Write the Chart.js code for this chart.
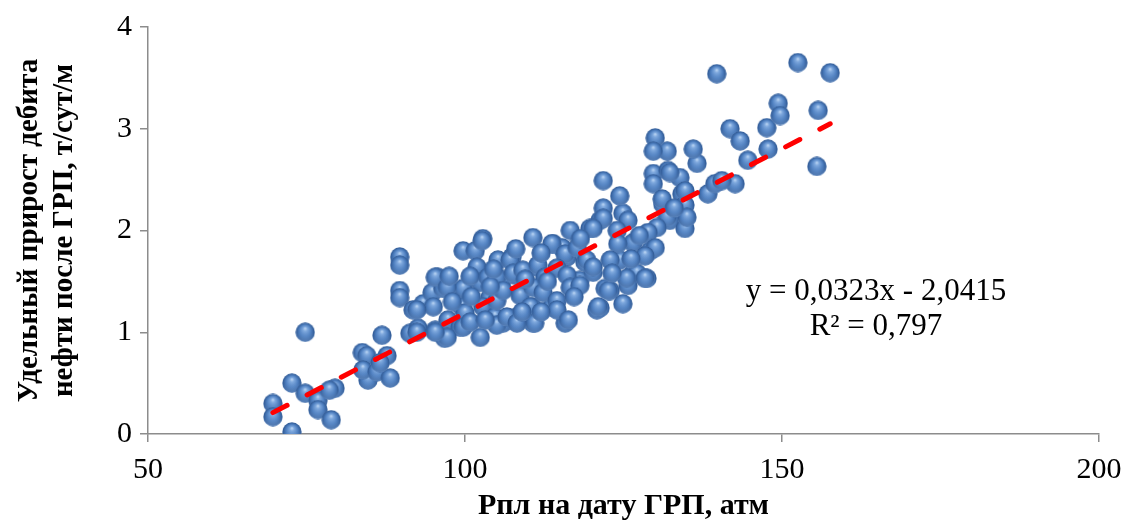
<!DOCTYPE html>
<html>
<head>
<meta charset="utf-8">
<script src="https://cdn.jsdelivr.net/npm/chart.js@4"></script>
<style>
    body { margin: 0; background: #fff; }
    #wrap { width: 1125px; height: 524px; }
</style>
</head>
<body>
<div id="wrap"><canvas id="fracChart" width="1125" height="524"></canvas></div>
<script>
// Рпл на дату ГРП, атм
let pressure = [
    69.7, 69.7, 72.7, 72.7, 74.8, 74.8, 76.8, 76.8, 78.9, 79.5, 78.6,
    83.8, 84.5, 84.7, 83.9, 86.1, 86.9, 87.7, 88.2, 86.6,
    89.7, 89.7, 89.7, 89.7, 91.8, 91.3, 92.6, 93.4, 94.8, 95.0,
    95.7, 96.5, 95.3, 96.8, 97.3, 99.7, 99.5, 99.2, 100.0, 102.4,
    102.8, 99.7, 101.6, 101.9, 102.4, 103.9, 105.2, 102.8, 104.7, 106.0,
    103.6, 105.8, 92.4, 95.3, 97.2, 102.7, 107.4, 105.0, 107.9, 111.4,
    113.9, 115.3, 116.1, 118.9, 118.1, 121.3, 122.9, 126.5, 124.4, 129.2,
    124.9, 128.7, 131.2, 132.3, 110.6, 113.7, 115.8, 110.7, 107.6, 105.0,
    99.7, 97.2, 95.3, 92.4, 110.7, 113.7, 116.6, 119.7, 115.8, 117.7,
    121.3, 107.1, 107.6, 109.1, 111.5, 112.6, 114.5, 116.1, 119.2, 120.2,
    105.0, 106.0, 108.7, 110.7, 112.3, 114.5, 116.6, 118.1, 122.1, 106.6,
    108.2, 110.3, 111.0, 114.5, 116.3, 120.8, 121.8, 124.4, 121.8, 121.8,
    129.7, 132.0, 133.9, 136.6, 129.7, 131.1, 134.2, 134.7, 138.3, 139.4,
    134.7, 131.9, 130.3, 128.9, 125.7, 124.0, 120.2, 126.5, 130.0, 124.1,
    122.9, 128.4, 127.1, 128.7, 125.7, 122.6, 121.0, 124.9, 120.2, 141.8,
    143.4, 147.6, 147.8, 144.6, 142.6, 140.5, 136.0, 131.9, 130.0, 129.7,
    132.3, 134.7, 135.0, 152.5, 157.6, 149.4, 149.7, 155.7, 155.5, 139.7,
    125.5, 128.4, 104.0, 101.0, 98.0, 100.8, 103.2, 109.0, 112.0, 117.2,
    113.0, 109.5, 123.2, 126.2, 127.5, 133.0, 118.2, 112.0, 97.5, 100.8,
    104.5, 108.0
];

// Удельный прирост дебита нефти, т/сут/м
let gain = [
    0.30, 0.17, 0.50, 0.02, 1.00, 0.40, 0.33, 0.24, 0.14, 0.45, 0.43,
    0.80, 0.77, 0.53, 0.63, 0.61, 0.97, 0.77, 0.55, 0.70,
    1.74, 1.66, 1.41, 1.34, 1.22, 0.99, 1.04, 1.28, 1.39, 1.25,
    1.54, 1.43, 1.02, 0.94, 1.12, 1.43, 1.25, 1.05, 1.19, 0.95,
    1.92, 1.80, 1.80, 1.64, 1.49, 1.34, 1.71, 1.25, 1.15, 1.09,
    1.54, 1.51, 1.22, 1.54, 1.44, 1.90, 1.74, 1.54, 1.56, 1.64,
    1.87, 1.83, 1.74, 1.69, 1.51, 1.24, 1.41, 1.58, 1.71, 1.80,
    2.17, 1.97, 2.26, 2.10, 1.25, 1.25, 1.09, 1.09, 1.14, 1.07,
    1.05, 0.95, 1.00, 1.00, 1.93, 1.87, 2.00, 2.02, 1.77, 1.83,
    2.10, 1.71, 1.58, 1.61, 1.66, 1.54, 1.63, 1.56, 1.71, 1.59,
    1.31, 1.41, 1.36, 1.44, 1.39, 1.31, 1.44, 1.46, 1.43, 1.15,
    1.09, 1.25, 1.09, 1.22, 1.12, 1.22, 2.49, 2.34, 2.22, 2.12,
    2.56, 2.59, 2.52, 2.66, 2.46, 2.31, 2.36, 2.25, 2.36, 2.46,
    2.02, 2.13, 2.03, 1.98, 2.10, 2.00, 2.02, 1.88, 1.83, 1.87,
    1.71, 1.75, 1.58, 1.53, 1.46, 1.41, 1.25, 1.28, 1.64, 3.00,
    2.88, 3.01, 2.80, 2.69, 2.46, 2.49, 2.80, 2.78, 2.91, 2.78,
    2.57, 2.39, 2.13, 3.65, 3.55, 3.25, 3.13, 3.18, 2.63, 3.54,
    1.53, 1.53, 1.45, 1.35, 1.30, 1.10, 1.12, 1.20, 1.20, 1.35,
    1.50, 1.52, 1.58, 1.72, 1.95, 2.22, 1.92, 1.78, 1.55, 1.55,
    1.62, 1.82
];

// linear trend, coefficients as printed on the chart
let slope = 0.0323;
let intercept = -2.0415;
let eqLines = ["y = 0,0323x - 2,0415", "R² = 0,797"];

let xTicks = [50, 100, 150, 200];
let yTicks = [0, 1, 2, 3, 4];

let points = pressure.map((p, i) => ({ x: p, y: gain[i] }));
let xMin = Math.min(...pressure);
let xMax = Math.max(...pressure);
let trend = [
    { x: xMin, y: slope * xMin + intercept },
    { x: xMax, y: slope * xMax + intercept }
];

// shaded blue ball used as the marker
function makeBall(d) {
    let c = document.createElement("canvas");
    c.width = d;
    c.height = d;
    let g = c.getContext("2d");
    let r = d / 2;
    let body = g.createRadialGradient(r, r * 0.6, 0, r, r, r);
    body.addColorStop(0, "#c2daf6");
    body.addColorStop(0.22, "#7fa9de");
    body.addColorStop(0.6, "#4d7ebf");
    body.addColorStop(0.88, "#335d98");
    body.addColorStop(1, "#4a74ae");
    g.fillStyle = body;
    g.beginPath();
    g.arc(r, r, r - 0.3, 0, Math.PI * 2);
    g.fill();
    // soft reflection along the lower rim
    let rim = g.createLinearGradient(0, r, 0, d);
    rim.addColorStop(0, "rgba(130,170,222,0)");
    rim.addColorStop(0.85, "rgba(130,170,222,0.4)");
    rim.addColorStop(1, "rgba(130,170,222,0)");
    g.fillStyle = rim;
    g.beginPath();
    g.arc(r, r, r - 0.3, 0, Math.PI);
    g.fill();
    return c;
}
let ball = makeBall(20);

let serif = "'Liberation Serif', 'Times New Roman', serif";
let axisGray = "#8c8c8c";

// regression equation text
let equationLabel = {
    id: "equationLabel",
    afterDraw(chart) {
        let ctx = chart.ctx;
        ctx.save();
        ctx.fillStyle = "#000";
        ctx.font = "31px " + serif;
        ctx.textAlign = "center";
        ctx.textBaseline = "middle";
        ctx.fillText(eqLines[0], 876, 292);
        ctx.fillText(eqLines[1], 876, 327);
        ctx.restore();
    }
};

let ctx = document.getElementById("fracChart").getContext("2d");
let chart = new Chart(ctx, {
    type: "scatter",
    data: {
        datasets: [{
            label: "trend",
            type: "line",
            data: trend,
            order: 0,
            borderColor: "#ff0000",
            borderWidth: 5,
            borderDash: [16, 22.5],
            borderCapStyle: "round",
            pointRadius: 0,
            fill: false
        }, {
            label: "wells",
            data: points,
            order: 1,
            pointStyle: ball,
            pointRadius: 10,
            pointHoverRadius: 10
        }]
    },
    options: {
        responsive: false,
        animation: false,
        layout: { padding: { top: 27, right: 26, left: 0, bottom: 0 } },
        plugins: {
            legend: { display: false },
            tooltip: { enabled: false }
        },
        scales: {
            x: {
                type: "linear",
                min: 50,
                max: 200,
                afterBuildTicks: s => { s.ticks = xTicks.map(v => ({ value: v })); },
                afterFit: s => {
                    s.height = 90;
                    s.paddingLeft = 0;
                    s.paddingRight = 0;
                },
                border: { color: axisGray, width: 1.5 },
                grid: { drawOnChartArea: false, color: axisGray, tickLength: 8, lineWidth: 1.5 },
                ticks: { color: "#000", font: { family: serif, size: 30 }, padding: 10 },
                title: {
                    display: true,
                    text: "Рпл на дату ГРП, атм",
                    color: "#000",
                    font: { family: serif, size: 30, weight: "bold" },
                    padding: { top: 2, bottom: 0 }
                }
            },
            y: {
                type: "linear",
                min: 0,
                max: 4,
                afterBuildTicks: s => { s.ticks = yTicks.map(v => ({ value: v })); },
                afterFit: s => { s.width = 148; },
                border: { color: axisGray, width: 1.5 },
                grid: { drawOnChartArea: false, color: axisGray, tickLength: 8, lineWidth: 1.5 },
                ticks: { color: "#000", font: { family: serif, size: 30 }, padding: 8 },
                title: {
                    display: true,
                    text: ["Удельный прирост дебита", "нефти после ГРП, т/сут/м"],
                    color: "#000",
                    font: { family: serif, size: 29, weight: "bold", lineHeight: 1.2 },
                    padding: { top: 12, bottom: 0 }
                }
            }
        }
    },
    plugins: [equationLabel]
});
</script>
</body>
</html>
